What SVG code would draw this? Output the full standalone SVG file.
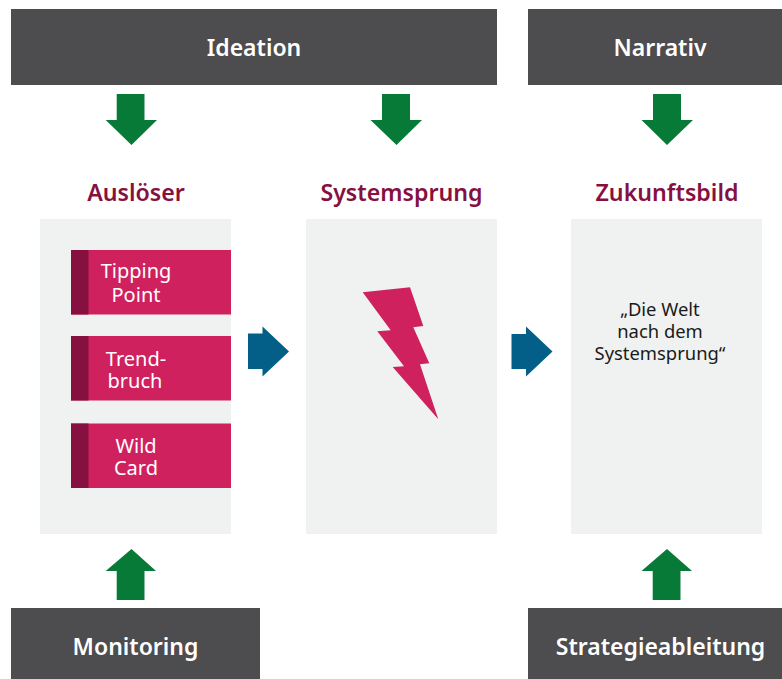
<svg xmlns="http://www.w3.org/2000/svg" width="782" height="679" viewBox="0 0 782 679">
<style>
text{font-family:"Noto Sans","Open Sans","Liberation Sans",sans-serif;text-anchor:middle}
.bar{fill:#4d4c4e}
.barT{fill:#fff;font-size:23px;font-weight:600}
.head{fill:#861040;font-size:23.200px;font-weight:600}
.panel{fill:#f0f2f1}
.card{fill:#d0215f}
.edge{fill:#861040}
.cardT{fill:#fff;font-size:20px}
.quote{fill:#1a1a1a;font-size:18.400px}
.green{fill:#087a38}
.blue{fill:#045f88}
</style>
<g id="panels">
<rect class="panel" x="40" y="219" width="191" height="315"/>
<rect class="panel" x="306" y="219" width="191" height="315"/>
<rect class="panel" x="571" y="219" width="191" height="315"/>
</g>
<g id="node-ideation"><rect class="bar" x="11" y="9" width="486" height="76"/><text class="barT" x="254" y="56">Ideation</text></g>
<g id="node-narrativ"><rect class="bar" x="528" y="9" width="254" height="76"/><text class="barT" x="660" y="56">Narrativ</text></g>
<g id="node-monitoring"><rect class="bar" x="11" y="608" width="249" height="71"/><text class="barT" x="135.500" y="655">Monitoring</text></g>
<g id="node-strategie"><rect class="bar" x="528" y="608" width="254" height="71"/><text class="barT" x="660.500" y="655">Strategieableitung</text></g>
<g id="node-ausloeser"><text class="head" x="136" y="201">Auslöser</text></g>
<g id="node-systemsprung"><text class="head" x="401.500" y="201">Systemsprung</text>
<polygon class="card" points="362.7,292.3 410,287.3 423.3,326 413.3,327.3 429.3,363.3 420,364.3 438.3,419.3 392.7,367 404,366.3 377.3,331.3 390.7,330.3"/></g>
<g id="node-zukunftsbild"><text class="head" x="667" y="201">Zukunftsbild</text>
<text class="quote"><tspan x="660" y="316">„Die Welt</tspan><tspan x="660" y="338">nach dem</tspan><tspan x="660" y="360">Systemsprung“</tspan></text></g>
<g id="node-tipping"><rect class="card" x="71" y="250" width="160" height="64.5"/><rect class="edge" x="71" y="250" width="17.500" height="64.5"/><text class="cardT"><tspan x="136" y="278">Tipping</tspan><tspan x="136" y="301.500">Point</tspan></text></g>
<g id="node-trend"><rect class="card" x="71" y="336" width="160" height="64.5"/><rect class="edge" x="71" y="336" width="17.500" height="64.5"/><text class="cardT"><tspan x="136" y="366">Trend-</tspan><tspan x="135" y="388">bruch</tspan></text></g>
<g id="node-wild"><rect class="card" x="71" y="423.500" width="160" height="64.5"/><rect class="edge" x="71" y="423.500" width="17.500" height="64.5"/><text class="cardT"><tspan x="136" y="453">Wild</tspan><tspan x="136" y="474.500">Card</tspan></text></g>
<g id="connectors">
<polygon class="green" points="116.700,94 144.500,94 144.500,120 157,120 131.500,145 105.700,120 116.700,120"/>
<polygon class="green" points="382,94 410,94 410,120 422,120 396.500,145 370.500,120 382,120"/>
<polygon class="green" points="653,94 681,94 681,120 693,120 667,145 641.500,120 653,120"/>
<polygon class="green" points="116.700,600 144.500,600 144.500,571 156,571 131.500,549 105.700,571 116.700,571"/>
<polygon class="green" points="652.700,600 680.500,600 680.500,571 692,571 667,549 641.500,571 652.700,571"/>
<polygon class="blue" points="248,333.500 262.500,333.500 262.500,326.500 289,351.500 262.500,376.500 262.500,369 248,369"/>
<polygon class="blue" points="511.500,334 526,334 526,326.500 552.500,351.500 526,376.500 526,369 511.500,369"/>
</g>
</svg>
